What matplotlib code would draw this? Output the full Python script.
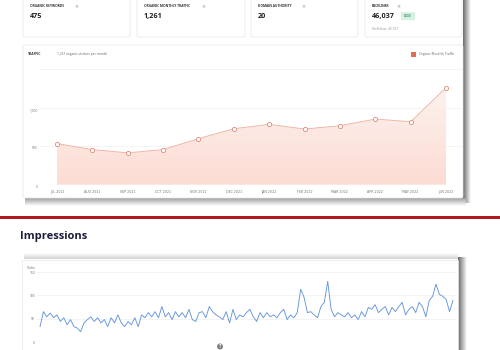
import numpy as np
import matplotlib
matplotlib.use("Agg")
import matplotlib.pyplot as plt
from matplotlib.patches import Rectangle, FancyBboxPatch, Circle
from matplotlib.colors import LinearSegmentedColormap

plt.rcParams['font.family'] = ['Open Sans', 'DejaVu Sans']

# ---------------- data ----------------
months = ["JUL 2021", "AUG 2021", "SEP 2021", "OCT 2021", "NOV 2021", "DEC 2021",
          "JAN 2022", "FEB 2022", "MAR 2022", "APR 2022", "MAY 2022", "JUN 2022"]
traffic = [535, 457, 414, 457, 599, 728, 784, 724, 767, 853, 819, 1261]
traffic_ticks = [0, 500, 1000]
traffic_tick_labels = ["0", "500", "1,000"]

metric_labels = ["ORGANIC KEYWORDS", "ORGANIC MONTHLY TRAFFIC", "DOMAIN AUTHORITY", "BACKLINKS"]
metric_values = ["475", "1,261", "20", "46,037"]

clicks = [33, 65, 54, 62, 52, 58, 44, 52, 37, 48, 33, 30, 22, 41, 48, 54, 44, 52, 41, 48,
          33, 52, 41, 58, 41, 33, 44, 37, 52, 33, 58, 52, 63, 54, 65, 52, 76, 54,
          63, 48, 65, 54, 63, 52, 70, 48, 44, 63, 65, 52, 76, 65, 58, 54, 48, 65, 41, 70,
          48, 58, 54, 63, 70, 54, 44, 63, 52, 63, 54, 58, 52, 63, 70, 48, 58, 52, 63, 113,
          96, 63,
          65, 58, 52, 76, 85, 130, 70, 54, 63, 58, 54, 63, 52, 58, 48, 65, 54, 74, 70, 80,
          63, 70, 76, 58, 74, 65, 76, 85, 58, 70, 76, 63, 85, 76, 54, 89, 98, 124, 102, 98,
          91, 65, 89]
clicks_ticks = [0, 50, 100, 150]
clicks_tick_labels = ["0", "50", "100", "150"]

W, H = 500, 350
fig = plt.figure(figsize=(5, 3.5), dpi=100)
fig.patch.set_facecolor('white')

# background axes in pixel coordinates
bg = fig.add_axes([0, 0, 1, 1], zorder=0)
bg.set_xlim(0, W)
bg.set_ylim(H, 0)
bg.axis('off')


def shade(x0, x1, y0, y1, start, horizontal=True, reverse=False):
    n = 64
    g = np.linspace(start, 1.0, n)
    if reverse:
        g = g[::-1]
    arr = g.reshape(1, -1) if horizontal else g.reshape(-1, 1)
    bg.imshow(arr, extent=[x0, x1, y1, y0], cmap='gray', vmin=0, vmax=1,
              aspect='auto', interpolation='bilinear', zorder=1)


# shadows of the top screenshot
shade(463, 471, 0, 203, 0.42, horizontal=True)
shade(25, 466, 198, 206, 0.62, horizontal=False)
# shadows of the bottom screenshot
shade(24, 458, 254, 259.5, 0.82, horizontal=False, reverse=True)
shade(458, 467, 257, 350, 0.40, horizontal=True)
bg.set_xlim(0, W)
bg.set_ylim(H, 0)

# top white area of screenshot
bg.add_patch(Rectangle((22, 0), 441, 198, facecolor='white', edgecolor='none', zorder=2))

# metric cards
card_x = [(23, 130), (137, 245), (251, 358), (365, 462)]
info_x = [77, 204, 304, 399]
for (x0, x1), lab, val, ix in zip(card_x, metric_labels, metric_values, info_x):
    bg.add_patch(FancyBboxPatch((x0, -4), x1 - x0, 41, boxstyle="round,pad=0,rounding_size=2",
                                facecolor='white', edgecolor='#e6e6e6', lw=0.5, zorder=3))
    bg.text(x0 + 7, 6.3, lab, fontsize=2.3, fontweight='bold', color='#333333',
            va='center', ha='left', zorder=4)
    bg.add_patch(Circle((ix, 6.3), 1.5, facecolor='#d0d0d0', edgecolor='none', zorder=4))
    bg.text(x0 + 7, 16.5, val, fontsize=5.2, fontweight='bold', color='#222222',
            va='center', ha='left', zorder=4)

bg.add_patch(FancyBboxPatch((401, 12.2), 14, 8, boxstyle="round,pad=0,rounding_size=1",
                            facecolor='#d5f1e4', edgecolor='none', zorder=4))
bg.text(408, 16.2, "GOOD", fontsize=1.8, color='#3c9a6c', fontweight='bold',
        ha='center', va='center', zorder=5)
bg.text(372, 28, "NoFollow: 45,667", fontsize=2.3, color='#9a9a9a', va='center',
        ha='left', zorder=4)

# traffic card
bg.add_patch(FancyBboxPatch((23, 45), 440, 153, boxstyle="round,pad=0,rounding_size=2",
                            facecolor='white', edgecolor='#e6e6e6', lw=0.5, zorder=3))
bg.text(28, 54, "TRAFFIC", fontsize=2.4, fontweight='bold', color='#333333',
        va='center', ha='left', zorder=4)
bg.text(57, 54, "1,261 organic visitors per month", fontsize=2.4, color='#666666',
        va='center', ha='left', zorder=4)
bg.add_patch(Rectangle((411, 51.5), 5, 5, facecolor='#e0704f', edgecolor='none', zorder=4))
bg.text(419, 54, "Organic Monthly Traffic", fontsize=2.3, color='#666666',
        va='center', ha='left', zorder=4)

# red separator
bg.add_patch(Rectangle((0, 215.5), W, 3, facecolor='#b01a20', edgecolor='none', zorder=4))

# section title
bg.text(20, 237, "Impressions", fontsize=8, fontweight='bold', color='#1c1c3c',
        va='center', ha='left', zorder=4)

# bottom card
bg.add_patch(Rectangle((22, 259.5), 436, 95, facecolor='white', edgecolor='#e6e6e6',
                       lw=0.5, zorder=3))
bg.text(27, 268, "Clicks", fontsize=2.4, color='#666666', va='center', ha='left', zorder=4)
bg.add_patch(Circle((220, 346.5), 3, facecolor='#7f7f7f', edgecolor='none', zorder=4))
bg.text(220, 346.6, "?", fontsize=3.5, color='white', fontweight='bold',
        ha='center', va='center', zorder=5)

# ---------------- traffic chart ----------------
ax = fig.add_axes([40 / W, 1 - 184.7 / H, 423 / W, 115.4 / H], zorder=5)
ax.set_facecolor('none')
x = np.arange(len(traffic))
poly = ax.fill_between(x, traffic, 0, facecolor='none', edgecolor='none')
cmap = LinearSegmentedColormap.from_list('fillgrad', ['#fcdcd3', '#fdf2ee'])
grad = np.linspace(0, 1, 256).reshape(-1, 1)
im = ax.imshow(grad, extent=[0, len(traffic) - 1, 0, max(traffic)], origin='lower',
               aspect='auto', cmap=cmap, zorder=1)
im.set_clip_path(poly.get_paths()[0], transform=ax.transData)
ax.plot(x, traffic, color='#ebb2a4', lw=0.6, zorder=3)
ax.plot(x, traffic, 'o', ms=3.0, mfc='white', mec='#dd8a74', mew=0.6, zorder=4)
ax.set_xlim(-0.48, 11.48)
ax.set_ylim(0, 1500)
for v in [500, 1000, 1500]:
    ax.axhline(v, color='#f0f0f0', lw=0.5, zorder=0)
ax.axhline(0, color='#dcdcdc', lw=0.5, zorder=2)
ax.set_xticks(x)
ax.set_xticklabels(months, fontsize=2.3, color='#777777', family='DejaVu Sans')
for lab in ax.get_xticklabels():
    lab.set_va('baseline')
ax.set_yticks(traffic_ticks)
ax.set_yticklabels(traffic_tick_labels, fontsize=2.3, color='#777777')
for lab in ax.get_yticklabels():
    lab.set_va('top')
ax.tick_params(axis='x', length=0, pad=6.0)
ax.tick_params(axis='y', length=0, pad=1.5)
for s in ax.spines.values():
    s.set_visible(False)

# ---------------- clicks chart ----------------
ax2 = fig.add_axes([37 / W, 1 - 342 / H, 420 / W, 70 / H], zorder=5)
ax2.set_facecolor('none')
xc = np.arange(len(clicks))
ax2.plot(xc, clicks, color='#6496dc', lw=0.65, zorder=3)
ax2.set_xlim(-0.9, len(clicks) - 1 + 1.2)
ax2.set_ylim(0, 150)
for v in [50, 100, 150]:
    ax2.axhline(v, color='#efefef', lw=0.5, zorder=0)
ax2.axhline(0, color='#cfcfcf', lw=0.6, zorder=2)
ax2.set_xticks([])
ax2.set_yticks(clicks_ticks)
ax2.set_yticklabels(clicks_tick_labels, fontsize=2.4, color='#777777')
ax2.tick_params(axis='y', length=0, pad=1.5)
for s in ax2.spines.values():
    s.set_visible(False)

fig.savefig("out.png", dpi=100, facecolor='white')
